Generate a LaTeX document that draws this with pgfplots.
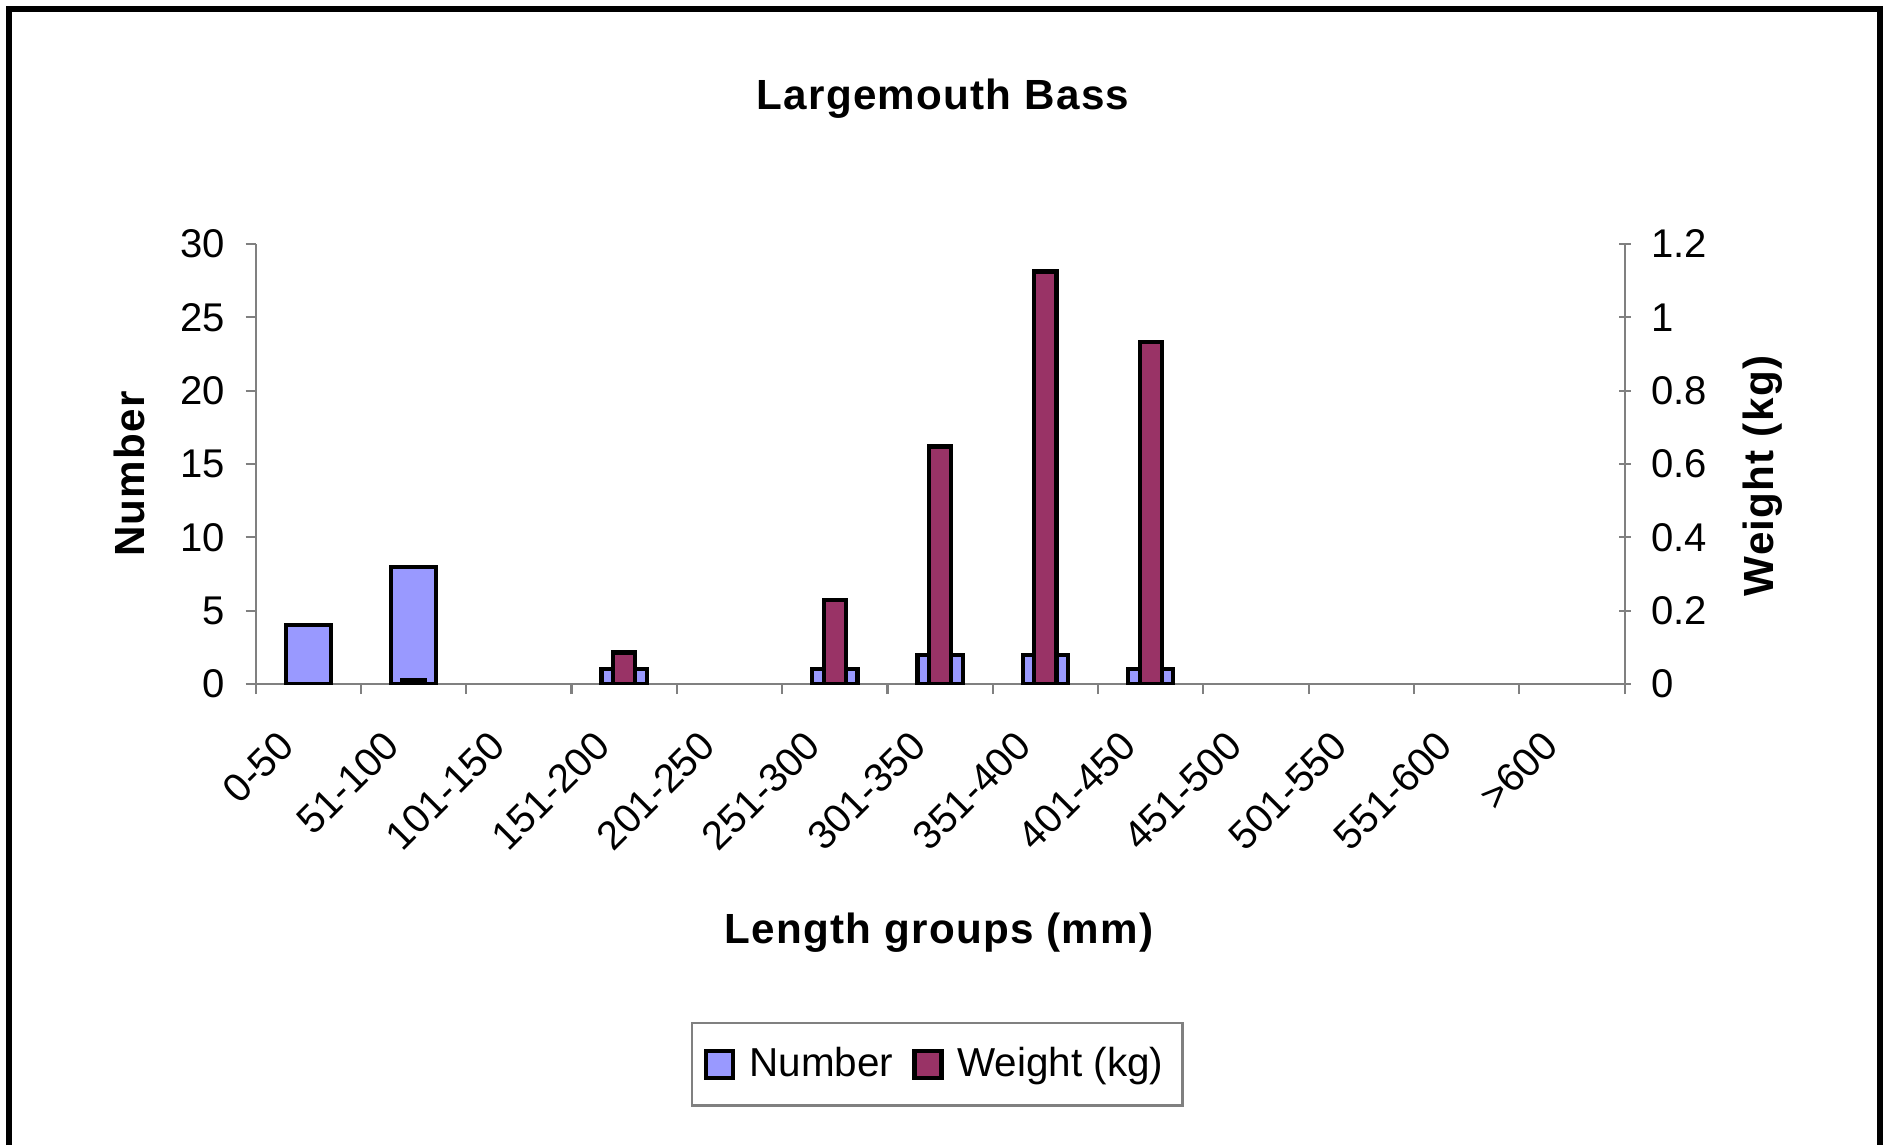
\documentclass[border=0pt]{standalone}
\usepackage{pgfplots}
\pgfplotsset{compat=1.18}
\usepackage{fontspec}
\setmainfont{Liberation Sans}
\newfontfamily\lblfont[LetterSpace=3]{Liberation Sans}
\definecolor{numc}{HTML}{9999FF}
\definecolor{wtc}{HTML}{993366}
\definecolor{axgray}{HTML}{808080}
\pgfplotsset{sqlegend/.style={legend image code/.code={\draw[##1] (0cm,-0.135cm) rectangle (0.27cm,0.135cm);}}}
\begin{document}
\begin{tikzpicture}
\path[use as bounding box] (0,0) rectangle (18.91,11.45);
\draw[line width=1.9pt] (0.09,0) -- (0.09,11.36) -- (18.80,11.36) -- (18.80,0);
\node[font=\lblfont\bfseries\fontsize{12}{14}\selectfont] at (9.43,10.46) {Largemouth Bass};
\node[rotate=90, font=\lblfont\bfseries\fontsize{12}{14}\selectfont] at (1.29,6.71) {Number};
\node[rotate=90, font=\lblfont\bfseries\fontsize{12}{14}\selectfont] at (17.63,6.69) {Weight (kg)};
\node[font=\lblfont\bfseries\fontsize{12}{14}\selectfont] at (9.39,2.12) {Length groups (mm)};

\begin{axis}[
  scale only axis, width=13.69cm, height=4.40cm,
  at={(2.556cm,4.61cm)}, anchor=south west,
  xmin=-0.5, xmax=12.5, ymin=0, ymax=30,
  axis x line*=bottom, axis y line*=left,
  axis line style={draw=axgray, line width=0.6pt, -},
  xtick={-0.5,0.5,...,12.5},
  x tick label as interval,
  xticklabels={0-50,51-100,101-150,151-200,201-250,251-300,301-350,351-400,401-450,451-500,501-550,551-600,>600},
  ytick={0,5,...,30},
  major tick length=0.1cm,
  tick align=outside,
  tick style={draw=axgray, line width=0.6pt},
  /pgf/number format/assume math mode=true,
  yticklabel style={font=\fontsize{11.4}{13}\selectfont, xshift=-0.08cm},
  xticklabel style={font=\fontsize{11.4}{13}\selectfont, xshift=-0.13cm, yshift=-0.36cm, rotate=45, anchor=east},
]
\addplot[ybar, bar width=0.43, fill=numc, draw=black, line width=1.2pt]
  coordinates {(0,4) (1,8) (3,1) (5,1) (6,2) (7,2) (8,1)};
\end{axis}

\begin{axis}[
  scale only axis, width=13.69cm, height=4.40cm,
  at={(2.556cm,4.61cm)}, anchor=south west,
  xmin=-0.5, xmax=12.5, ymin=0, ymax=1.2,
  axis x line=none, axis y line*=right,
  axis line style={draw=axgray, line width=0.6pt, -},
  ytick={0,0.2,0.4,0.6,0.8,1,1.2},
  yticklabels={0,0.2,0.4,0.6,0.8,1,1.2},
  major tick length=0.12cm,
  tick align=center,
  tick style={draw=axgray, line width=0.6pt},
  yticklabel style={font=\fontsize{11.4}{13}\selectfont, xshift=0.08cm},
  legend columns=2,
  legend style={at={(0.498,-0.864)}, anchor=center, draw=axgray, line width=0.6pt,
    font=\fontsize{11.5}{13}\selectfont, inner xsep=0.12cm, inner ysep=0.17cm,
    /tikz/every odd column/.append style={column sep=0.07cm},
    /tikz/every even column/.append style={column sep=0.12cm}},
]
\addlegendimage{fill=numc, draw=black, line width=1.2pt, sqlegend}
\addlegendentry{Number}
\addplot[ybar, bar width=0.21, fill=wtc, draw=black, line width=1.2pt, sqlegend]
  coordinates {(1,0.01) (3,0.086) (5,0.229) (6,0.648) (7,1.125) (8,0.933)};
\addlegendentry{Weight (kg)}
\end{axis}
\end{tikzpicture}
\end{document}
